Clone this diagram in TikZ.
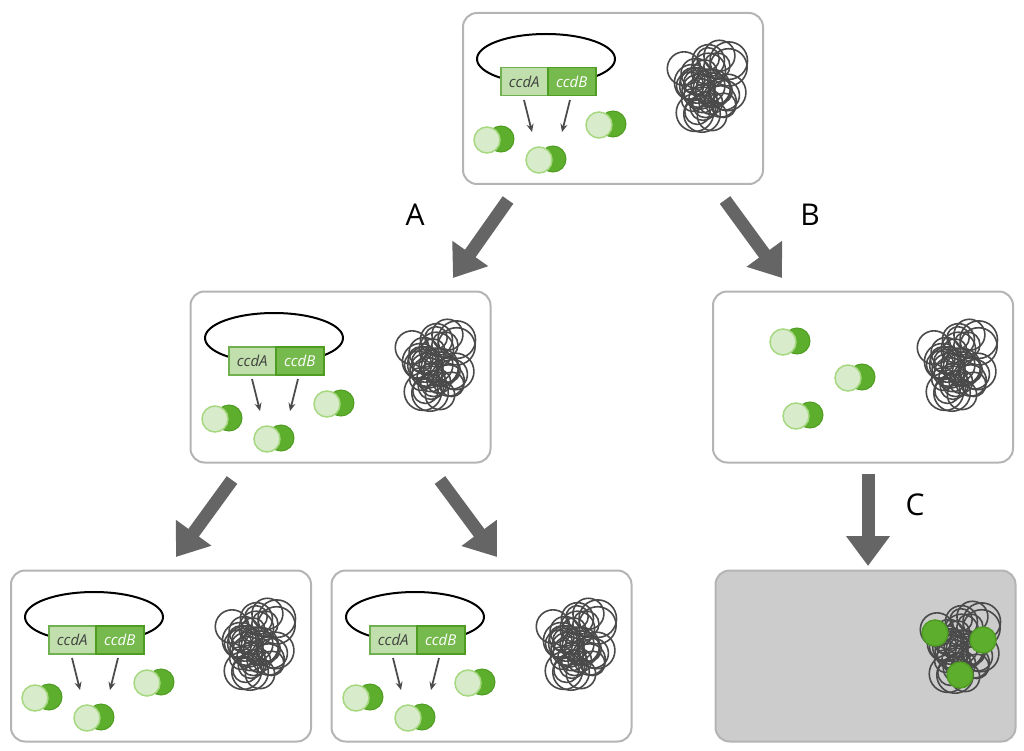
\documentclass[tikz,border=0pt]{standalone}
\usepackage{fontspec}
\setmainfont{Open Sans}
\usetikzlibrary{arrows.meta}
\definecolor{lg}{HTML}{D8EBCB}
\definecolor{lge}{HTML}{A6D880}
\definecolor{dg}{HTML}{5EAE2E}
\definecolor{dge}{HTML}{4E9C22}
\definecolor{bx}{HTML}{B4B4B4}
\definecolor{chr}{HTML}{4A4A4A}
\tikzset{
 cell/.style={draw=bx,line width=2pt,rounded corners=14pt,minimum width=300pt,minimum height=171pt,inner sep=0pt},
 big/.style={draw=chr!85,line width=13pt,-{Triangle[width=42pt,length=30pt]}},
 lbl/.style={font=\fontsize{30}{30}\selectfont},
 prot/.pic={\fill[dg,draw=dge,line width=1pt] (14,-1) circle (13);
            \fill[lg,draw=lge,line width=1.5pt] (0,0) circle (13);},
 chromo/.pic={\pgfmathsetseed{7}
   \foreach \i in {1,...,34}{\pgfmathsetmacro\ax{247+rnd*36-18+(rand*10)}
     \pgfmathsetmacro\ay{76+rand*34}
     \pgfmathsetmacro\rr{11+rnd*8}
     \draw[chr,line width=1.6pt] (\ax,\ay) circle (\rr);}},
}
\newcommand\plasmidcell[2]{\begin{scope}[shift={(#1,#2)}]
 \draw[black,line width=2pt] (84,47) ellipse (69 and 25);
 \node[draw=dge!80,fill=lg!80!dg,line width=1.5pt,minimum width=47pt,minimum height=28pt,inner sep=0pt,anchor=north west,font=\fontsize{15}{15}\itshape,text=black!75] at (38,55) {ccdA};
 \node[draw=dge,fill=dg!85,line width=1.5pt,minimum width=48pt,minimum height=28pt,inner sep=0pt,anchor=north west,font=\fontsize{15}{15}\itshape,text=white] at (85,55) {ccdB};
 \draw[chr,line width=1.8pt,-{Stealth[length=8pt,width=7pt]}] (62,88) -- (70,120);
 \draw[chr,line width=1.8pt,-{Stealth[length=8pt,width=7pt]}] (108,88) -- (100,120);
 \pic at (25,128) {prot}; \pic at (77,148) {prot}; \pic at (137,113) {prot};
 \pic {chromo};
\end{scope}}
\begin{document}
\begin{tikzpicture}[x=1pt,y=-1pt]
\useasboundingbox (0,0) rectangle (1024,751);
\node[cell] (top) at (613,98.5) {};
\node[cell] (ml) at (340.5,377) {};
\node[cell] (mr) at (863,377) {};
\node[cell] (bl) at (161,656) {};
\node[cell] (bm) at (481.5,656) {};
\node[cell,fill=black!20] (br) at (865.5,656) {};
\plasmidcell{462}{12}
\plasmidcell{190}{291}
\plasmidcell{10}{570}
\plasmidcell{331}{570}
\begin{scope}[shift={(712,291)}]
 \pic at (783-712,342-291) {prot}; \pic at (848-712,378-291) {prot}; \pic at (796-712,416-291) {prot};
 \pic {chromo};
\end{scope}
\begin{scope}[shift={(715,570)}]
 \pic[yshift=-3] {chromo};
 \foreach \p in {(220,63),(268,70),(245,105)} \fill[dg,draw=dge,line width=1.5pt] \p circle (13);
\end{scope}
\coordinate (a1) at (508,200); \coordinate (a2) at (453,278);
\coordinate (b1) at (725,200); \coordinate (b2) at (782,278);
\coordinate (c1) at (232,480); \coordinate (c2) at (176,557);
\coordinate (d1) at (440,480); \coordinate (d2) at (497,557);
\coordinate (e1) at (868,474); \coordinate (e2) at (868,566);
\draw[big] (a1) -- (a2);
\draw[big] (b1) -- (b2);
\draw[big] (c1) -- (c2);
\draw[big] (d1) -- (d2);
\draw[big] (e1) -- (e2);
\node[lbl] (la) at (415,215) {A};
\node[lbl] (lb) at (810,215) {B};
\node[lbl] (lc) at (915,505) {C};
\end{tikzpicture}
\end{document}
